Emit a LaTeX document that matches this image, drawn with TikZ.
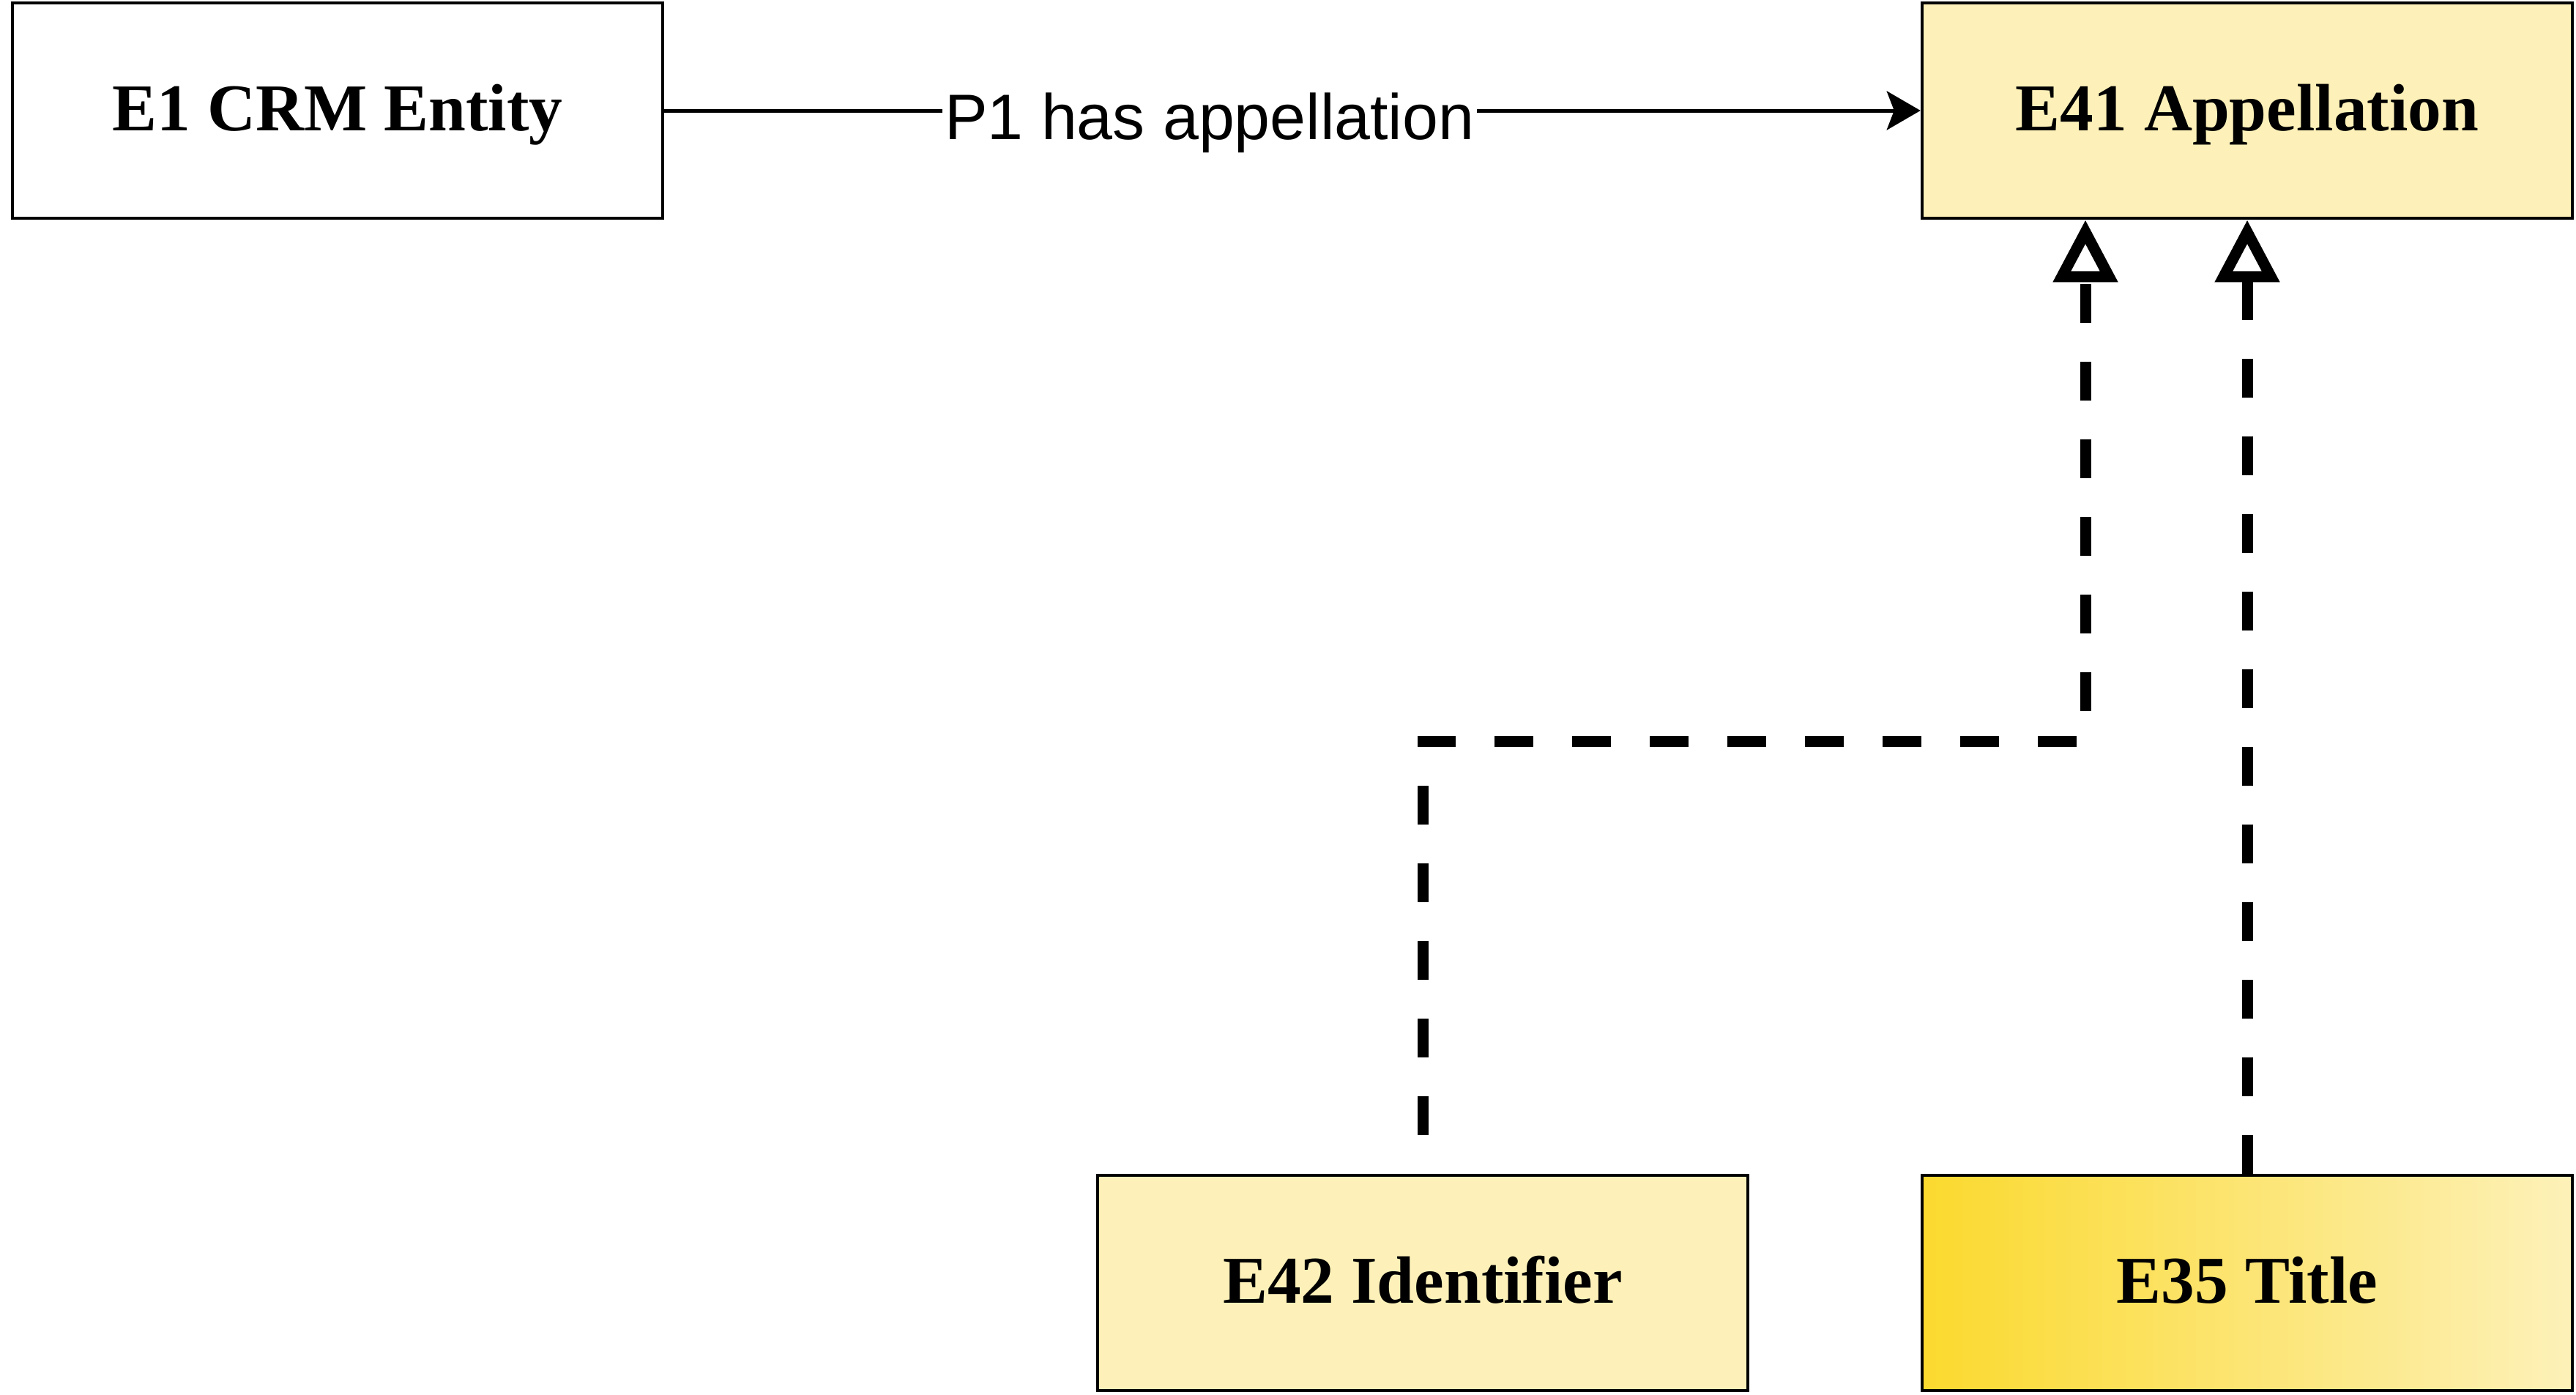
\documentclass[tikz,border=0pt]{standalone}
\usepackage{fontspec}
\setmainfont{Liberation Serif}
\newfontfamily\labelfont{Liberation Sans}
\usetikzlibrary{arrows.meta}
\definecolor{lightgold}{HTML}{FDF1B9}
\definecolor{deepgold}{HTML}{FBD92E}

\begin{document}
\begin{tikzpicture}
    \useasboundingbox (0,0) rectangle (35.18,-19.05);
    \begin{scope}[every node/.style={rectangle,draw,line width=0.045cm,minimum width=8.88cm,minimum height=2.94cm,text height=0.75cm,text depth=0.2cm,font=\fontsize{26}{31}\selectfont\bfseries}]
        \node (e1) at (4.61,-1.51) {E1 CRM Entity};
        \node[fill=lightgold] (e41) at (30.69,-1.51) {E41 Appellation};
        \node[fill=lightgold] (e42) at (19.43,-17.52) {E42 Identifier};
        \node[left color=deepgold,right color=lightgold] (e35) at (30.69,-17.52) {E35 Title};
    \end{scope}
    \coordinate (knee) at (28.48,-10.12);
    \begin{scope}[isa/.style={line width=0.15cm,dash pattern=on 0.53cm off 0.53cm,-{Triangle[open,length=0.85cm,width=0.85cm]}}]
        \draw[isa,dash phase=0.53cm] (e42.north) |- (knee) -- (knee |- e41.south);
        \draw[isa] (e35.north) -- (e41.south);
    \end{scope}
    \path[line width=0.05cm,-{Stealth[length=0.46cm,width=0.53cm,inset=0.1cm]}]
        (e1) edge node[pos=0.434,yshift=-0.17cm,fill=white,inner sep=1pt,font=\labelfont\fontsize{25}{30}\selectfont] (p1) {P1 has appellation} (e41);
\end{tikzpicture}
\end{document}
